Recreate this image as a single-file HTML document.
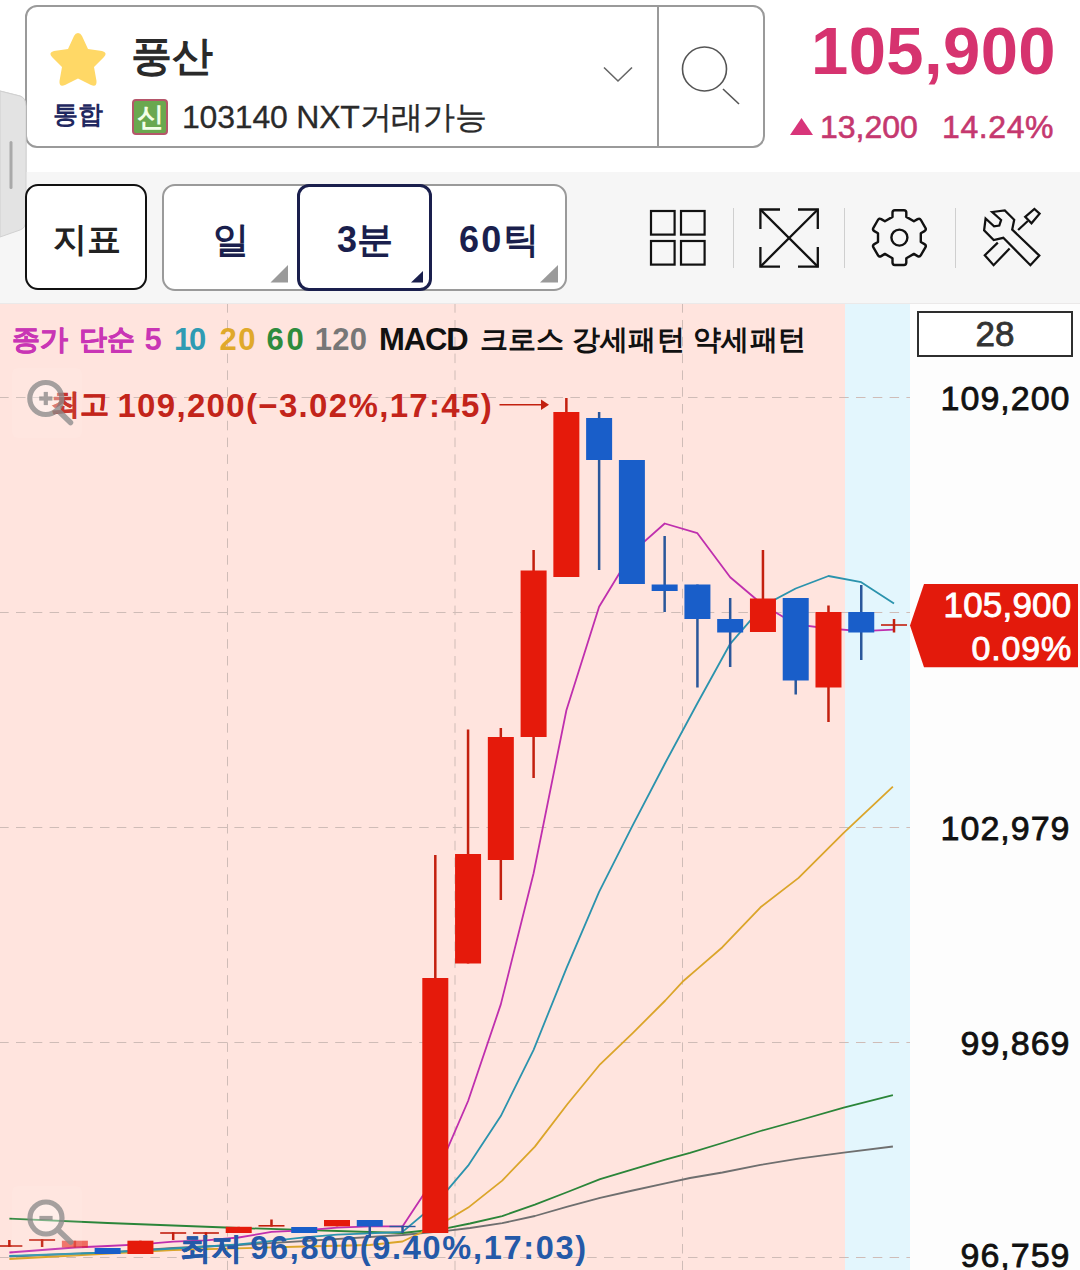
<!DOCTYPE html>
<html lang="ko">
<head>
<meta charset="utf-8">
<title>풍산 차트</title>
<style>
html,body{margin:0;padding:0;width:1080px;height:1270px;overflow:hidden;background:#fff}
#root{width:1080px;height:1270px;position:relative;overflow:hidden;background:#fff;font-family:"Liberation Sans",sans-serif;color:#222}
.a{position:absolute;white-space:nowrap;line-height:1}
.b{font-weight:bold}
.lg{top:326px;font-size:28px;letter-spacing:0.3px}
.ld{top:324px;font-size:31px}
svg{position:absolute;left:0;top:0}
</style>
</head>
<body>
<div id="root">

<!-- left drawer handle -->
<svg width="40" height="260" viewBox="0 0 40 260" style="top:60px">
<path d="M0 31 L20 36 Q26 38 26 46 L26 160 Q26 168 20 170 L0 177 Z" fill="#e3e3e3" stroke="#d0d0d0" stroke-width="1"/>
<rect x="9.5" y="81" width="3" height="48" rx="1.5" fill="#a9a9a9"/>
</svg>

<!-- search box -->
<div class="a" style="left:25px;top:5px;width:736px;height:139px;border:2px solid #9a9a9a;border-radius:12px;background:#fff"></div>
<div class="a" style="left:657px;top:6px;width:1.5px;height:140px;background:#9a9a9a"></div>
<svg width="1080" height="172" viewBox="0 0 1080 172">
<path d="M78 33 Q80.5 33 82 36 L88 49 L102 51 Q108 52.5 104 57 L94 67 L96.5 81 Q97 87.5 91 85 L78 78.5 L65 85 Q59 87.5 59.5 81 L62 67 L52 57 Q48 52.5 54 51 L68 49 L74 36 Q75.5 33 78 33 Z" fill="#ffd866"/>
<polyline points="604,67.5 618,81 632,67.5" fill="none" stroke="#666" stroke-width="1.6"/>
<circle cx="704.5" cy="69" r="22" fill="none" stroke="#555" stroke-width="1.6"/>
<line x1="723" y1="89" x2="739" y2="104" stroke="#555" stroke-width="1.6"/>
<polygon points="790,135 801.5,118 813,135" fill="#d8357a"/>
</svg>
<div class="a b" id="t_name" style="left:131px;top:36px;font-size:41px;color:#2a2a2a">풍산</div>
<div class="a b" id="t_tong" style="left:53px;top:103px;font-size:24.5px;color:#1f2860">통합</div>
<div class="a" style="left:132px;top:99px;width:32px;height:32px;border:2px solid #b5566a;border-radius:4px;background:#6aa84f"></div>
<div class="a b" id="t_sin" style="left:137px;top:104px;font-size:27px;color:#f4ffe8">신</div>
<div class="a" id="t_code" style="left:182px;top:101px;font-size:32px;letter-spacing:-0.2px;color:#2a2a2a;-webkit-text-stroke:0.3px #2a2a2a">103140 NXT거래가능</div>

<div class="a b" id="t_price" style="left:811px;top:17px;font-size:67px;letter-spacing:0.4px;color:#d6336f">105,900</div>
<div class="a" id="t_chg" style="left:820px;top:110.5px;font-size:32px;color:#c5386f;-webkit-text-stroke:0.6px #c5386f">13,200</div>
<div class="a" id="t_pct" style="left:942px;top:110.5px;font-size:32px;letter-spacing:0.6px;color:#c5386f;-webkit-text-stroke:0.6px #c5386f">14.24%</div>

<!-- toolbar -->
<div class="a" style="left:0;top:172px;width:1080px;height:131px;background:#f6f6f6"></div>
<svg width="40" height="260" viewBox="0 0 40 260" style="top:60px">
<path d="M0 31 L20 36 Q26 38 26 46 L26 160 Q26 168 20 170 L0 177 Z" fill="#e3e3e3" stroke="#d0d0d0" stroke-width="1"/>
<rect x="9.5" y="81" width="3" height="48" rx="1.5" fill="#a9a9a9"/>
</svg>
<div class="a" style="left:24.5px;top:184.3px;width:118.5px;height:102.2px;border:2.3px solid #111;border-radius:13px;background:#fff"></div>
<div class="a b" id="t_jipyo" style="left:52.5px;top:221.5px;font-size:34px;color:#222">지표</div>
<div class="a" style="left:162px;top:184.3px;width:401px;height:102.7px;border:2px solid #9a9a9a;border-radius:13px;background:#fff"></div>
<div class="a" style="left:297px;top:184.3px;width:129px;height:100.7px;border:3px solid #1a1f4d;border-radius:12px;background:#fff"></div>
<div class="a b" id="t_il" style="left:213px;top:222px;font-size:36px;color:#1a1f4d">일</div>
<div class="a b" id="t_3m" style="left:337px;top:222px;font-size:36px;color:#1a1f4d">3분</div>
<div class="a b" id="t_60" style="left:459px;top:222px;font-size:36px;letter-spacing:2.2px;color:#1a1f4d">60틱</div>
<svg width="1080" height="310" viewBox="0 0 1080 310">
<polygon points="288,265 288,282.5 270.5,282.5" fill="#9a9a9a"/>
<polygon points="558,265 558,282.5 540,282.5" fill="#9a9a9a"/>
<polygon points="423,271 423,282.5 411,282.5" fill="#1a1f4d"/>
<!-- grid icon -->
<g fill="none" stroke="#111" stroke-width="2.2">
<rect x="651" y="211" width="23.6" height="23.6"/><rect x="681" y="211" width="23.6" height="23.6"/>
<rect x="651" y="241" width="23.6" height="23.6"/><rect x="681" y="241" width="23.6" height="23.6"/>
</g>
<g stroke="#cfcfcf" stroke-width="1"><line x1="733.5" y1="208" x2="733.5" y2="268"/><line x1="844.5" y1="208" x2="844.5" y2="268"/><line x1="955.5" y1="208" x2="955.5" y2="268"/></g>
<!-- expand icon -->
<g fill="none" stroke="#111" stroke-width="2.3">
<polyline points="760.4,229 760.4,209.5 780,209.5"/><polyline points="798,209.5 817.8,209.5 817.8,229"/>
<polyline points="760.4,247 760.4,266.6 780,266.6"/><polyline points="798,266.6 817.8,266.6 817.8,247"/>
<line x1="760.4" y1="209.5" x2="817.8" y2="266.6"/><line x1="817.8" y1="209.5" x2="760.4" y2="266.6"/>
</g>
<!-- gear icon -->
<g fill="none" stroke="#111" stroke-width="2.4" stroke-linejoin="round">
<circle cx="899.4" cy="237.6" r="8"/>
<path d="M892.5 216.9 L892.5 212.6 Q892.5 210.2 894.9 210.2 L903.9 210.2 Q906.3 210.2 906.3 212.6 L906.3 216.9 L913.9 221.3 L917.6 219.1 Q919.7 217.9 920.9 220.0 L925.4 227.8 Q926.6 229.9 924.5 231.1 L920.8 233.2 L920.8 242.0 L924.5 244.1 Q926.6 245.3 925.4 247.4 L920.9 255.2 Q919.7 257.3 917.6 256.1 L913.9 253.9 L906.3 258.3 L906.3 262.6 Q906.3 265.0 903.9 265.0 L894.9 265.0 Q892.5 265.0 892.5 262.6 L892.5 258.3 L884.9 253.9 L881.2 256.1 Q879.1 257.3 877.9 255.2 L873.4 247.4 Q872.2 245.3 874.3 244.1 L878.0 242.0 L878.0 233.2 L874.3 231.1 Q872.2 229.9 873.4 227.8 L877.9 220.0 Q879.1 217.9 881.2 219.1 L884.9 221.3 Z"/>
</g>
<!-- tools icon -->
<g fill="none" stroke="#111" stroke-width="2.25" stroke-linejoin="miter" stroke-miterlimit="3">
<path d="M992.2 212 L1004.8 210.5 L1014.2 219.8 L1012.2 229.6 L1039.3 255.6 L1030.4 265.2 L1003.3 237.8 L993.7 240 L984.1 230.4 L985.6 218.5 L994.1 226.3 L999.3 225.6 L1001.1 220 Z"/>
<path d="M997.8 242.6 L984.8 255.2 L993.6 265.2 L1009.6 248.5"/>
<path d="M1018.1 230 L1027.8 221"/>
<path d="M1025.2 216.9 L1034.4 208.9 L1039.6 213.7 L1031.5 223.3 Z"/>
</g>
</svg>

<!-- chart -->
<div class="a" style="left:0;top:303px;width:1080px;height:967px;background:#fdfdfd"></div>
<div class="a" style="left:0;top:303.5px;width:844.5px;height:967px;background:#ffe4de"></div>
<div class="a" style="left:844.5px;top:303.5px;width:65.5px;height:967px;background:#e3f6fd"></div>
<div class="a" style="left:0;top:303px;width:1080px;height:1px;background:#ebe9e9"></div>
<svg width="1080" height="1270" viewBox="0 0 1080 1270">
<g stroke="#cfbcb7" stroke-width="1" stroke-dasharray="9.5 7.3" stroke-dashoffset="0.8" fill="none">
<line x1="0" y1="397.5" x2="910" y2="397.5"/>
<line x1="0" y1="612.5" x2="910" y2="612.5"/>
<line x1="0" y1="827.5" x2="910" y2="827.5"/>
<line x1="0" y1="1042.5" x2="910" y2="1042.5"/>
<line x1="0" y1="1257.5" x2="910" y2="1257.5"/>
<line x1="227.5" y1="304" x2="227.5" y2="1270"/>
<line x1="455" y1="304" x2="455" y2="1270"/>
<line x1="682.5" y1="304" x2="682.5" y2="1270"/>
</g>
<!--SMALL-->
<polyline fill="none" stroke="#6f6f6f" stroke-width="1.8" stroke-linejoin="round" points="9.4,1256.5 107.7,1252.5 173.2,1248.0 238.7,1245.0 402.5,1235.0 448.4,1230.6 470.0,1228.0 502.2,1223.2 534.9,1216.0 567.5,1206.7 600.1,1197.8 632.7,1190.5 665.3,1183.4 690.0,1178.0 722.4,1172.5 760.5,1164.9 798.6,1158.6 843.7,1152.7 892.9,1146.5"/>
<polyline fill="none" stroke="#2b8539" stroke-width="1.8" stroke-linejoin="round" points="9.4,1218.7 107.7,1223.0 238.7,1228.0 369.8,1232.0 402.5,1233.0 448.4,1227.8 470.0,1223.5 502.2,1216.1 534.9,1204.7 567.5,1192.0 600.1,1179.2 632.7,1169.3 665.3,1159.6 690.0,1152.8 722.4,1143.0 760.5,1131.0 798.6,1120.5 843.7,1107.7 892.9,1095.2"/>
<polyline fill="none" stroke="#dba52a" stroke-width="1.8" stroke-linejoin="round" points="9.4,1259.0 173.2,1250.0 304.2,1246.5 369.8,1245.0 402.5,1241.5 448.4,1219.5 468.2,1207.6 502.2,1180.6 534.9,1146.6 567.5,1104.0 600.1,1064.3 632.7,1033.1 665.3,1000.5 682.5,981.8 697.4,968.9 722.4,947.2 760.5,907.3 798.6,877.9 843.7,832.8 892.9,786.7"/>
<polyline fill="none" stroke="#2b93ad" stroke-width="1.8" stroke-linejoin="round" points="9.4,1256.0 107.7,1252.5 173.2,1248.5 238.7,1244.5 304.2,1237.3 337.0,1234.7 369.8,1233.3 402.5,1231.9 435.3,1204.3 468.1,1165.7 500.8,1116.1 533.6,1049.8 566.4,968.3 599.1,891.8 631.9,826.9 664.7,764.0 697.4,703.2 730.2,643.8 763.0,605.9 795.7,588.5 828.5,576.0 861.2,582.2 894.0,603.5"/>
<polyline fill="none" stroke="#bf2fae" stroke-width="1.8" stroke-linejoin="round" points="9.4,1252.5 42.1,1250.0 74.9,1247.5 107.7,1246.0 140.4,1244.3 173.2,1241.7 205.9,1240.3 238.7,1237.5 271.5,1231.9 304.2,1230.3 337.0,1227.7 369.8,1226.4 402.5,1226.4 435.3,1176.8 468.1,1101.0 500.8,1004.4 533.6,873.2 566.4,710.3 599.1,606.7 631.9,552.7 664.7,523.5 697.4,533.2 730.2,577.3 763.0,605.0 795.7,624.3 828.5,628.5 861.2,631.2 894.0,629.7"/>
<rect x="8.11" y="1240" width="2.5" height="6.8" fill="#c3200f"/>
<rect x="-3.64" y="1245.2" width="26.0" height="1.6" fill="#c3200f"/>
<rect x="40.87" y="1239.2" width="2.5" height="7.8" fill="#c3200f"/>
<rect x="29.12" y="1239.2" width="26.0" height="1.6" fill="#c3200f"/>
<rect x="73.63" y="1240.7" width="2.5" height="6.8" fill="#c3200f" opacity="0.6"/>
<rect x="61.88" y="1240.7" width="26.0" height="6.8" fill="#e51a0b" opacity="0.6"/>
<rect x="106.40" y="1248" width="2.5" height="6.0" fill="#2a579b"/>
<rect x="94.65" y="1248" width="26.0" height="6.0" fill="#195ec9"/>
<rect x="139.17" y="1240.7" width="2.5" height="13.3" fill="#c3200f"/>
<rect x="127.42" y="1240.7" width="26.0" height="13.3" fill="#e51a0b"/>
<rect x="171.93" y="1232.2" width="2.5" height="7.8" fill="#c3200f"/>
<rect x="160.18" y="1232.2" width="26.0" height="1.6" fill="#c3200f"/>
<rect x="204.69" y="1232.2" width="2.5" height="6.8" fill="#c3200f"/>
<rect x="192.94" y="1232.2" width="26.0" height="1.6" fill="#c3200f"/>
<rect x="237.46" y="1226.8" width="2.5" height="6.2" fill="#c3200f"/>
<rect x="225.71" y="1226.8" width="26.0" height="6.2" fill="#e51a0b"/>
<rect x="270.23" y="1219.5" width="2.5" height="7.1" fill="#c3200f"/>
<rect x="258.48" y="1225" width="26.0" height="1.6" fill="#c3200f"/>
<rect x="302.99" y="1227" width="2.5" height="6.0" fill="#2a579b"/>
<rect x="291.24" y="1227" width="26.0" height="6.0" fill="#195ec9"/>
<rect x="335.75" y="1220" width="2.5" height="6.3" fill="#c3200f"/>
<rect x="324.00" y="1220" width="26.0" height="6.3" fill="#e51a0b"/>
<rect x="368.52" y="1220" width="2.5" height="17.5" fill="#2a579b"/>
<rect x="356.77" y="1220" width="26.0" height="6.5" fill="#195ec9"/>
<rect x="401.29" y="1225.8" width="2.5" height="7.2" fill="#2a579b"/>
<rect x="389.54" y="1225.8" width="26.0" height="1.4" fill="#2a579b"/>
<rect x="434.05" y="855" width="2.5" height="378.0" fill="#c3200f"/>
<rect x="422.30" y="978" width="26.0" height="255.0" fill="#e51a0b"/>
<rect x="466.81" y="729.5" width="2.5" height="234.0" fill="#c3200f"/>
<rect x="455.06" y="854" width="26.0" height="109.5" fill="#e51a0b"/>
<rect x="499.58" y="728" width="2.5" height="172.0" fill="#c3200f"/>
<rect x="487.83" y="737" width="26.0" height="123.0" fill="#e51a0b"/>
<rect x="532.35" y="550" width="2.5" height="228.0" fill="#c3200f"/>
<rect x="520.60" y="570.5" width="26.0" height="166.5" fill="#e51a0b"/>
<rect x="565.11" y="398" width="2.5" height="179.0" fill="#c3200f"/>
<rect x="553.36" y="412" width="26.0" height="165.0" fill="#e51a0b"/>
<rect x="597.88" y="412" width="2.5" height="158.0" fill="#2a579b"/>
<rect x="586.12" y="418" width="26.0" height="42.0" fill="#195ec9"/>
<rect x="630.64" y="460" width="2.5" height="124.0" fill="#2a579b"/>
<rect x="618.89" y="460" width="26.0" height="124.0" fill="#195ec9"/>
<rect x="663.40" y="536" width="2.5" height="76.0" fill="#2a579b"/>
<rect x="651.65" y="584.5" width="26.0" height="6.5" fill="#195ec9"/>
<rect x="696.17" y="584.5" width="2.5" height="103.0" fill="#2a579b"/>
<rect x="684.42" y="584.5" width="26.0" height="34.5" fill="#195ec9"/>
<rect x="728.93" y="598" width="2.5" height="69.0" fill="#2a579b"/>
<rect x="717.18" y="619" width="26.0" height="13.5" fill="#195ec9"/>
<rect x="761.70" y="550" width="2.5" height="82.0" fill="#c3200f"/>
<rect x="749.95" y="598.5" width="26.0" height="33.5" fill="#e51a0b"/>
<rect x="794.47" y="598" width="2.5" height="96.5" fill="#2a579b"/>
<rect x="782.72" y="598" width="26.0" height="82.5" fill="#195ec9"/>
<rect x="827.23" y="605.5" width="2.5" height="116.5" fill="#c3200f"/>
<rect x="815.48" y="612" width="26.0" height="75.5" fill="#e51a0b"/>
<rect x="860.00" y="585" width="2.5" height="75.0" fill="#2a579b"/>
<rect x="848.25" y="612" width="26.0" height="20.5" fill="#195ec9"/>
<rect x="892.76" y="619" width="2.5" height="13.5" fill="#c3200f"/>
<rect x="881.01" y="624.2" width="26.0" height="1.6" fill="#c3200f"/>
<!-- high arrow -->
<g stroke="#c3200f" stroke-width="1.6" fill="#c3200f"><line x1="499.5" y1="404.7" x2="543" y2="404.7"/><polygon points="541,399.5 549,404.7 541,410" stroke="none"/></g>
<!-- price tag -->
<polygon points="910,625.5 924,584 1078,584 1078,667.3 924,667.3" fill="#e31a0c"/>
</svg>

<!-- legend -->
<div class="a b lg" id="lg1" style="left:12px;color:#c935b5;-webkit-text-stroke-width:0.5px">종가</div>
<div class="a b lg" id="lg2" style="left:78.5px;color:#c935b5;-webkit-text-stroke-width:0.5px">단순</div>
<div class="a b lg ld" id="lg3" style="left:144.4px;color:#c935b5;letter-spacing:0px">5</div>
<div class="a b lg ld" id="lg4" style="left:174px;color:#2f9bb3;letter-spacing:-2.2px">10</div>
<div class="a b lg ld" id="lg5" style="left:219.4px;color:#e0a92a;letter-spacing:1.6px">20</div>
<div class="a b lg ld" id="lg6" style="left:266.4px;color:#2e8b3d;letter-spacing:2.9px">60</div>
<div class="a b lg ld" id="lg7" style="left:314.8px;color:#777;letter-spacing:0.25px">120</div>
<div class="a b lg ld" id="lg8" style="left:379px;color:#111;letter-spacing:-1.1px">MACD</div>
<div class="a b lg" id="lg9" style="left:479.7px;color:#111">크로스</div>
<div class="a b lg" id="lg10" style="left:571.7px;color:#111">강세패턴</div>
<div class="a b lg" id="lg11" style="left:693px;color:#111">약세패턴</div>
<div class="a b" id="t_hi1" style="left:51px;top:390px;font-size:29px;color:#c3241a;-webkit-text-stroke-width:0.5px">최고</div>
<div class="a b" id="t_hi2" style="left:117.4px;top:389px;font-size:33px;letter-spacing:1.33px;color:#c3241a">109,200(−3.02%,17:45)</div>
<div class="a b" id="t_lo1" style="left:179.5px;top:1233px;font-size:30.5px;color:#2459a8;-webkit-text-stroke-width:0.5px">최저</div>
<div class="a b" id="t_lo2" style="left:250.2px;top:1232px;font-size:32.5px;letter-spacing:1.7px;color:#2459a8">96,800(9.40%,17:03)</div>

<!-- axis -->
<div class="a" style="left:916.5px;top:310.5px;width:152px;height:42px;border:2px solid #2e2e2e;background:#fff"></div>
<div class="a" id="t_28" style="left:917px;top:315.5px;width:156px;text-align:center;font-size:35px;color:#333;-webkit-text-stroke:0.8px #333">28</div>
<div class="a ax" id="t_a1" style="right:9.5px;top:381px;font-size:34px;letter-spacing:1px;color:#111;-webkit-text-stroke:0.8px #111">109,200</div>
<div class="a ax" id="t_a2" style="right:9.5px;top:811px;font-size:34px;letter-spacing:1px;color:#111;-webkit-text-stroke:0.8px #111">102,979</div>
<div class="a ax" id="t_a3" style="right:9.5px;top:1025.5px;font-size:34px;letter-spacing:1px;color:#111;-webkit-text-stroke:0.8px #111">99,869</div>
<div class="a ax" id="t_a4" style="right:9.5px;top:1238px;font-size:34px;letter-spacing:1px;color:#111;-webkit-text-stroke:0.8px #111">96,759</div>
<div class="a" id="t_tag1" style="right:8.6px;top:587px;font-size:35px;letter-spacing:0.2px;color:#fff;-webkit-text-stroke:0.9px #fff">105,900</div>
<div class="a" id="t_tag2" style="right:8px;top:631px;font-size:34px;letter-spacing:0.8px;color:#fff;-webkit-text-stroke:0.9px #fff">0.09%</div>

<!-- zoom icons -->
<svg width="1080" height="1270" viewBox="0 0 1080 1270">
<rect x="12" y="368" width="70" height="70" rx="6" fill="#fff" opacity="0.08"/>
<rect x="12" y="1186" width="70" height="70" rx="6" fill="#fff" opacity="0.08"/>
<g opacity="0.78" fill="none" stroke="#8c8c8c">
<circle cx="45.8" cy="398.5" r="16" fill="#fff" fill-opacity="0.45" stroke-width="5.2"/>
<line x1="58.5" y1="411" x2="70.5" y2="422.5" stroke-width="5.5" stroke-linecap="round"/>
<line x1="39.2" y1="398.5" x2="52.4" y2="398.5" stroke-width="4.2"/><line x1="45.8" y1="391.9" x2="45.8" y2="405.1" stroke-width="4.2"/>
<circle cx="46" cy="1218" r="16" fill="#fff" fill-opacity="0.45" stroke-width="5.2"/>
<line x1="58.7" y1="1230.5" x2="70.7" y2="1242" stroke-width="5.5" stroke-linecap="round"/>
<line x1="39.4" y1="1218" x2="52.6" y2="1218" stroke-width="4.2"/>
</g>
</svg>
</div>
</body>
</html>
